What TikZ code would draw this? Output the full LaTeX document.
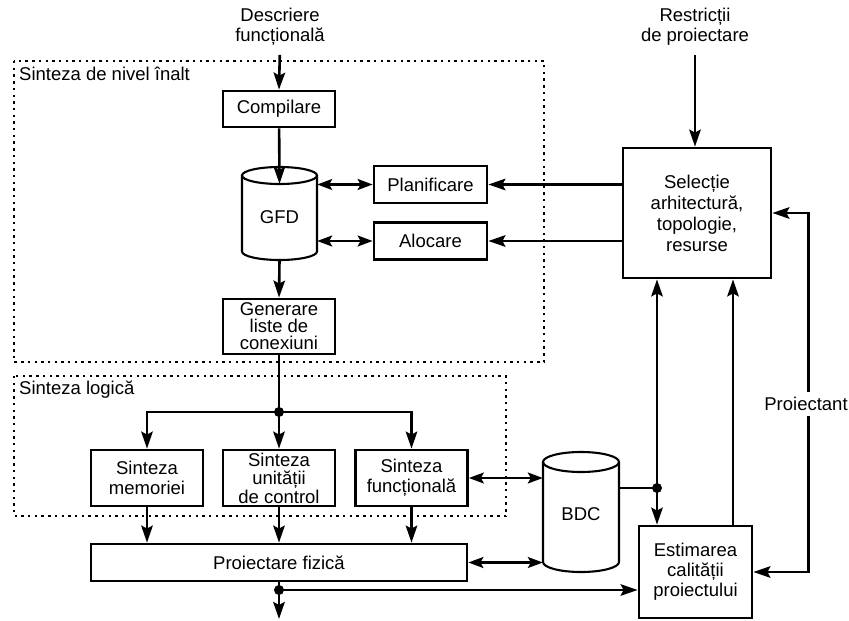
\documentclass[tikz,border=0pt]{standalone}
\usepackage{fontspec}
\setmainfont{Liberation Sans}
\usetikzlibrary{arrows.meta}
\begin{document}
\begin{tikzpicture}[x=1pt,y=-1pt,
  every node/.style={font=\fontsize{18.5}{20}\selectfont, inner sep=0pt, align=center},
  box/.style={draw, line width=2.8pt},
  tipA/.tip={Stealth[length=17pt,width=11.5pt,inset=3pt]},
  tipB/.tip={Stealth[length=15pt,width=11pt,inset=3pt]},
  conn/.style={line width=2.6pt, -tipA},
  dbl/.style={line width=2.1pt, tipB-tipB},
  plain/.style={line width=2.6pt},
  thin/.style={line width=2.1pt},
  cyl/.style={line width=2.1pt},
  region/.style={line width=2.4pt, dash pattern=on 2.4pt off 4.3pt},
  dot/.style={circle, fill, minimum size=10pt, inner sep=0pt}]
\useasboundingbox (0,0) rectangle (849,621);

% regions
\draw[region] (14,61) rectangle (544,362);
\draw[region] (14,376) rectangle (506,516);
\node[anchor=west] (l1) at (19,74) {Sinteza de nivel înalt};
\node[anchor=west] (l2) at (19,390) {Sinteza logică};

% cylinders
\draw[cyl] (242,175.5) -- (242,251.5) arc[start angle=180, end angle=0, x radius=37.5, y radius=8.5] -- (317,175.5);
\draw[cyl] (279.5,175.5) ellipse[x radius=37.5, y radius=8.5];
\draw[cyl] (543,462) -- (543,562) arc[start angle=180, end angle=0, x radius=38, y radius=10] -- (619,462);
\draw[cyl] (581,462) ellipse[x radius=38, y radius=10];

% nodes
\node (desc) at (280,27) {Descriere\\funcțională};
\node (restr) at (695,27) {Restricții\\de proiectare};
\node[box, minimum width=112, minimum height=36] (comp) at (279,109) {Compilare};
\node[minimum width=75, minimum height=76, text depth=10pt] (gfd) at (279.5,222) {GFD};
\node[box, minimum width=113, minimum height=37] (plan) at (430.5,184.5) {Planificare};
\node[box, minimum width=113, minimum height=37] (alo) at (430.5,241) {Alocare};
\node[box, minimum width=112, minimum height=55, font=\fontsize{18.5}{17}\selectfont] (gen) at (279,326.5) {Generare\\liste de\\conexiuni};
\node[box, minimum width=148, minimum height=130, font=\fontsize{18.5}{21}\selectfont] (sel) at (697,213) {Selecție\\arhitectură,\\topologie,\\resurse};
\node[box, minimum width=112, minimum height=56] (mem) at (147,478) {Sinteza\\memoriei};
\node[box, minimum width=112, minimum height=56, font=\fontsize{18.5}{18.5}\selectfont] (unit) at (279,478) {Sinteza\\unității\\de control};
\node[box, minimum width=112, minimum height=56] (func) at (411.5,478) {Sinteza\\funcțională};
\node[box, minimum width=376, minimum height=37] (pf) at (279,562.5) {Proiectare fizică};
\node[minimum width=76, minimum height=110, text depth=6pt] (bdc) at (581,517) {BDC};
\node[box, minimum width=113, minimum height=92] (est) at (695.5,572) {Estimarea\\calității\\proiectului};

\node[dot] (j1) at (279,412) {};
\node[dot] (j2) at (657,488) {};
\node[dot] (j3) at (279,590) {};
\coordinate (bot) at (279,619);

% connectors
\draw[conn, shorten <=9pt] (desc.south) -- (comp.north);
\draw[conn, shorten <=9pt] (restr.south) -- (restr.south |- sel.north);
\draw[conn] (comp) -- (gfd.north);
\draw[dbl] (gfd.east |- plan.west) -- (plan.west);
\draw[dbl] (gfd.east |- alo.west) -- (alo.west);
\draw[conn] (sel.west |- plan.east) -- (plan.east);
\draw[conn] (sel.west |- alo.east) -- (alo.east);
\draw[conn] (gfd.south) -- (gen.north);
\draw[plain] (gen.south) -- (j1.center);
\draw[conn] (j1.center) -| (mem.north);
\draw[conn] (j1.center) -| (func.north);
\draw[conn] (j1.center) -- (unit.north);
\draw[conn] (mem.south) -- (mem.south |- pf.north);
\draw[conn] (unit.south) -- (unit.south |- pf.north);
\draw[conn] (func.south) -- (func.south |- pf.north);
\draw[dbl] (func.east) -- (func.east -| bdc.west);
\draw[dbl] (pf.east) -- (pf.east -| bdc.west);
\draw[thin] (bdc.east |- j2) -- (j2.center);
\draw[conn] (j2.center) -- (j2 |- sel.south);
\draw[conn] (j2.center) -- (j2 |- est.north);
\draw[conn] ([xshift=37.5pt]est.north) -- ([xshift=37.5pt]est.north |- sel.south);
\draw[line width=2.6pt, tipA-tipA] (sel.east) -- ++(36,0) |- (est.east);
\node[fill=white, inner ysep=5pt, inner xsep=1pt] (proj) at (806,404) {Proiectant};
\draw[plain] (pf.south) -- (j3.center);
\draw[conn] (j3.center) -- (bot);
\draw[conn] (j3.center) -- (j3 -| est.west);
\end{tikzpicture}
\end{document}
